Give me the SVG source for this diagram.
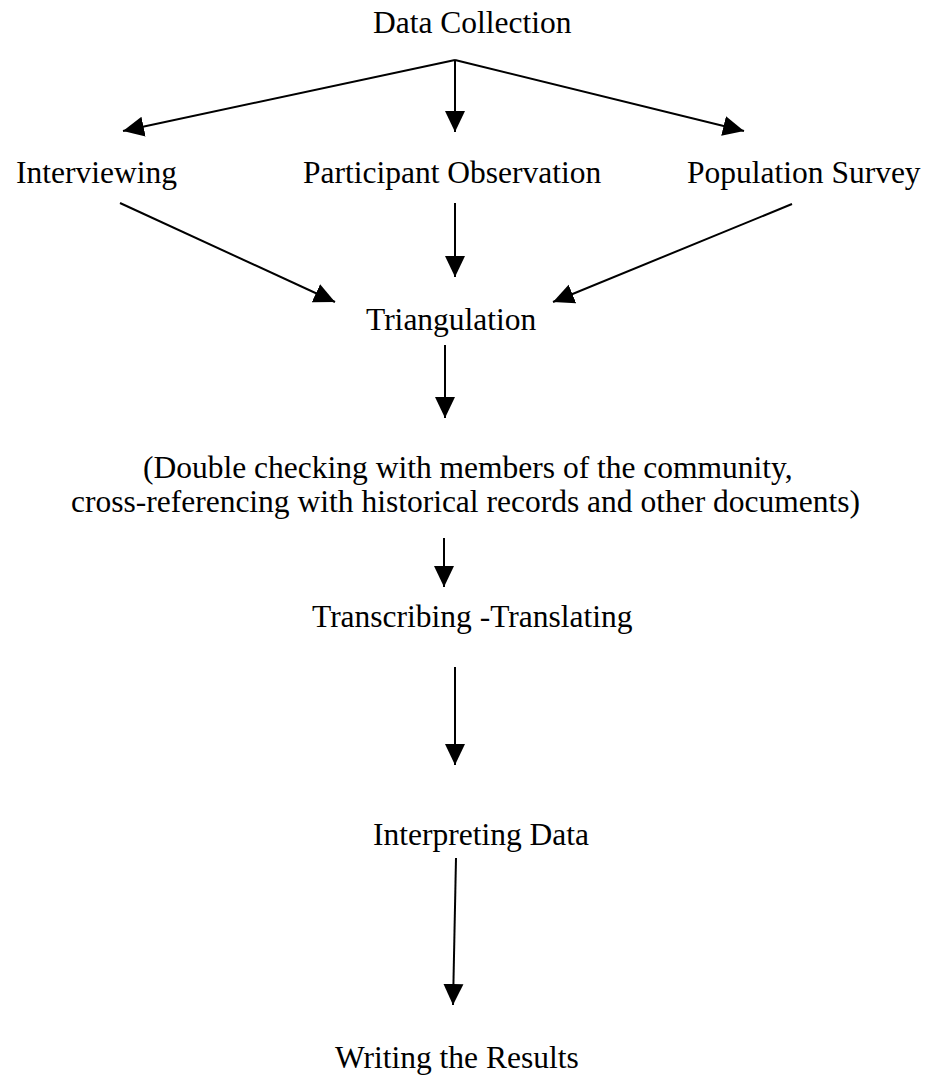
<svg xmlns="http://www.w3.org/2000/svg" width="930" height="1078" viewBox="0 0 930 1078">
<defs>
<style>
text { font-family: "Liberation Serif", "Times New Roman", serif; font-size: 31.5px; fill: #000; }
.c { stroke: #000; stroke-width: 2; fill: none; marker-end: url(#ah); }
</style>
<marker id="ah" markerUnits="userSpaceOnUse" markerWidth="22" markerHeight="22" viewBox="0 0 22 22" refX="21" refY="11" orient="auto">
<path d="M0,1 L21,11 L0,21 Z" fill="#000"/>
</marker>
</defs>
<rect width="930" height="1078" fill="#fff"/>
<g id="connectors">
<path class="c" d="M455,60 L123,131"/>
<path class="c" d="M455,60 L455,132"/>
<path class="c" d="M455,60 L744,131"/>
<path class="c" d="M120,203 L335,302"/>
<path class="c" d="M455,203 L455,277"/>
<path class="c" d="M792,204 L553,302"/>
<path class="c" d="M445,345 L445,418"/>
<path class="c" d="M444,538 L444,587"/>
<path class="c" d="M455,667 L455,765"/>
<path class="c" d="M456,858 L453,1005"/>
</g>
<g id="data-collection"><text x="373" y="33">Data Collection</text></g>
<g id="interviewing"><text x="16" y="183">Interviewing</text></g>
<g id="participant-observation"><text x="303" y="183">Participant Observation</text></g>
<g id="population-survey"><text x="687" y="183">Population Survey</text></g>
<g id="triangulation"><text x="366" y="330">Triangulation</text></g>
<g id="double-checking">
<text x="143" y="478">(Double checking with members of the community,</text>
<text x="71" y="512">cross-referencing with historical records and other documents)</text>
</g>
<g id="transcribing"><text x="312" y="627">Transcribing -Translating</text></g>
<g id="interpreting"><text x="373" y="845">Interpreting Data</text></g>
<g id="writing"><text x="335" y="1068">Writing the Results</text></g>
</svg>
